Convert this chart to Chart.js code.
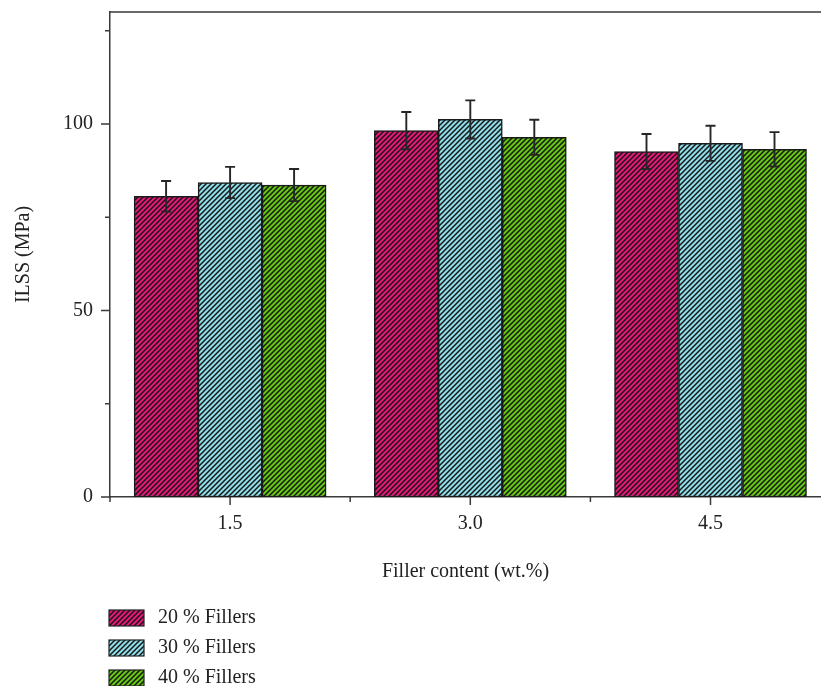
<!DOCTYPE html>
<html>
<head>
<meta charset="utf-8">
<script src="https://cdn.jsdelivr.net/npm/chart.js@4.4.1/dist/chart.umd.min.js"></script>
<style>
  html, body { margin: 0; padding: 0; background: #fff; overflow: hidden; }
  #wrap { width: 821px; height: 686px; }
</style>
</head>
<body>
<div id="wrap"><canvas id="ilssChart" width="821" height="686"></canvas></div>
<script>
// --- DATA ---
const fillerContent = [1.5, 3.0, 4.5];          // wt.%
const seriesNames = ['20 % Fillers', '30 % Fillers', '40 % Fillers'];
const ilss20 = [80.6, 98.2, 92.6];
const ilss30 = [84.3, 101.2, 94.8];
const ilss40 = [83.6, 96.4, 93.2];
const err20 = [4.1, 5.0, 4.7];
const err30 = [4.2, 5.1, 4.7];
const err40 = [4.3, 4.7, 4.6];
const xMajorTicks = [1.5, 3.0, 4.5];
const xMinorTicks = [0.75, 2.25, 3.75];
const yMajorTicks = [0, 50, 100];
const yMinorTicks = [25, 75, 125];

const FONT = '"Liberation Serif", "Times New Roman", serif';
const FONT_SIZE = 20;
const AXIS_COLOR = '#3a3a3a';

// diagonal hatch fill ("/" lines over a colour)
function hatch(color) {
    const s = 5;
    const c = document.createElement('canvas');
    c.width = s; c.height = s;
    const g = c.getContext('2d');
    g.fillStyle = color;
    g.fillRect(0, 0, s, s);
    g.strokeStyle = '#151515';
    g.lineWidth = 1.45;
    g.beginPath();
    g.moveTo(-1, s + 1); g.lineTo(s + 1, -1);
    g.moveTo(-1, 1); g.lineTo(1, -1);
    g.moveTo(s - 1, s + 1); g.lineTo(s + 1, s - 1);
    g.stroke();
    return g.createPattern(c, 'repeat');
}

const fills = [hatch('#e8177a'), hatch('#8fdde8'), hatch('#66c812')];
const values = [ilss20, ilss30, ilss40];
const errors = [err20, err30, err40];

const datasets = seriesNames.map((name, i) => ({
    label: name,
    data: fillerContent.map((x, j) => ({ x: x, y: values[i][j] })),
    errors: errors[i],
    backgroundColor: fills[i],
    borderColor: '#1a1a1a',
    borderWidth: 1.5,
    borderSkipped: false,
    barThickness: 64
}));

// error bars, outer frame, tick marks and legend
const decorPlugin = {
    id: 'decor',
    afterDatasetsDraw(chart) {
        const ctx = chart.ctx;
        const ys = chart.scales.y;
        ctx.save();
        ctx.strokeStyle = '#262626';
        ctx.lineWidth = 1.9;
        chart.data.datasets.forEach((ds, di) => {
            const meta = chart.getDatasetMeta(di);
            meta.data.forEach((bar, i) => {
                const v = ds.data[i].y, e = ds.errors[i];
                const yt = ys.getPixelForValue(v + e);
                const yb = ys.getPixelForValue(v - e);
                ctx.beginPath();
                ctx.moveTo(bar.x, yt); ctx.lineTo(bar.x, yb);
                ctx.moveTo(bar.x - 5, yt); ctx.lineTo(bar.x + 5, yt);
                ctx.moveTo(bar.x - 5, yb); ctx.lineTo(bar.x + 5, yb);
                ctx.stroke();
            });
        });
        ctx.restore();
    },
    afterDraw(chart) {
        const ctx = chart.ctx;
        const xs = chart.scales.x, ys = chart.scales.y;
        const area = chart.chartArea;
        ctx.save();
        ctx.strokeStyle = AXIS_COLOR;
        ctx.lineWidth = 1.5;
        ctx.beginPath();
        // top frame line
        ctx.moveTo(area.left, area.top);
        ctx.lineTo(chart.width, area.top);
        // x ticks (pointing down)
        xMajorTicks.forEach(v => { const p = xs.getPixelForValue(v); ctx.moveTo(p, area.bottom); ctx.lineTo(p, area.bottom + 8); });
        xMinorTicks.forEach(v => { const p = xs.getPixelForValue(v); ctx.moveTo(p, area.bottom); ctx.lineTo(p, area.bottom + 5); });
        // y ticks (pointing left)
        yMajorTicks.forEach(v => { const p = ys.getPixelForValue(v); ctx.moveTo(area.left, p); ctx.lineTo(area.left - 9, p); });
        yMinorTicks.forEach(v => { const p = ys.getPixelForValue(v); ctx.moveTo(area.left, p); ctx.lineTo(area.left - 5, p); });
        ctx.stroke();

        // legend, stacked under the axis title
        ctx.font = FONT_SIZE + 'px ' + FONT;
        ctx.textBaseline = 'middle';
        chart.data.datasets.forEach((ds, i) => {
            const bx = area.left - 1, by = chart.height - 76 + i * 30;
            ctx.fillStyle = ds.backgroundColor;
            ctx.fillRect(bx, by, 35, 16);
            ctx.strokeStyle = '#222';
            ctx.lineWidth = 1.2;
            ctx.strokeRect(bx, by, 35, 16);
            ctx.fillStyle = '#222';
            ctx.fillText(ds.label, bx + 49, by + 8);
        });
        ctx.restore();
    }
};

new Chart(document.getElementById('ilssChart').getContext('2d'), {
    type: 'bar',
    data: { datasets: datasets },
    plugins: [decorPlugin],
    options: {
        responsive: false,
        animation: false,
        layout: { padding: { top: 12, right: 0, bottom: 102, left: 0 } },
        plugins: {
            legend: { display: false },
            tooltip: { enabled: false }
        },
        scales: {
            x: {
                type: 'linear',
                offset: false,
                min: 0.75,
                max: 5.19,
                afterBuildTicks: scale => {
                    scale.ticks = [...xMinorTicks, ...xMajorTicks].sort((a, b) => a - b).map(v => ({ value: v }));
                },
                afterFit: scale => {
                    scale.height = 87;
                    scale.paddingLeft = 0;
                    scale.paddingRight = 0;
                },
                grid: { display: false, drawTicks: false },
                border: { display: true, color: AXIS_COLOR, width: 1.5 },
                ticks: {
                    autoSkip: false,
                    maxRotation: 0,
                    padding: 15,
                    color: '#222',
                    font: { family: FONT, size: FONT_SIZE },
                    callback: v => xMajorTicks.includes(v) ? v.toFixed(1) : ''
                },
                title: {
                    display: true,
                    text: 'Filler content (wt.%)',
                    color: '#222',
                    font: { family: FONT, size: FONT_SIZE },
                    padding: 0
                }
            },
            y: {
                min: 0,
                max: 130,
                afterBuildTicks: scale => {
                    scale.ticks = [...yMajorTicks, ...yMinorTicks].sort((a, b) => a - b).map(v => ({ value: v }));
                },
                afterFit: scale => {
                    scale.width = 110;
                    scale.paddingTop = 0;
                    scale.paddingBottom = 0;
                },
                grid: { display: false, drawTicks: false },
                border: { display: true, color: AXIS_COLOR, width: 1.5 },
                ticks: {
                    padding: 17,
                    color: '#222',
                    font: { family: FONT, size: FONT_SIZE },
                    callback: v => yMajorTicks.includes(v) ? String(v) : ''
                },
                title: {
                    display: true,
                    text: 'ILSS (MPa)',
                    color: '#222',
                    font: { family: FONT, size: FONT_SIZE },
                    padding: { top: 12, bottom: 0 }
                }
            }
        }
    }
});
</script>
</body>
</html>
